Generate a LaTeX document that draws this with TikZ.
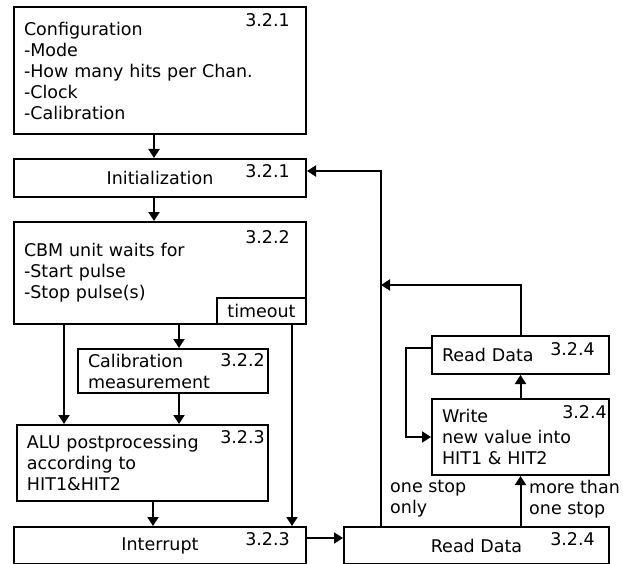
\documentclass[tikz,border=0pt]{standalone}
\usepackage{fontspec}
\setmainfont{DejaVu Sans}
\usetikzlibrary{arrows.meta}
\tikzset{
  box/.style={draw, line width=2pt, inner xsep=10pt, inner ysep=0pt, anchor=north west},
  lbox/.style={box, align=left},
  cbox/.style={box, align=center},
  num/.style={inner sep=0pt, anchor=north east},
  lbl/.style={inner sep=0pt, anchor=west, align=left},
  arr/.style={line width=2pt, -{Triangle[length=9pt,width=11pt]}},
}
\begin{document}
\begin{tikzpicture}[x=1pt, y=-1pt, font=\fontsize{17.5}{21}\selectfont]
\useasboundingbox (0,0) rectangle (623,564);
\node[lbox, text width=272pt, minimum height=127pt] (conf) at (13,6) {Configuration\\-Mode\\-How many hits per Chan.\\-Clock\\-Calibration};
\node[cbox, minimum width=292pt, minimum height=38pt] (init) at (13,158) {Initialization};
\node[lbox, text width=272pt, minimum height=102pt] (cbm) at (13,221) {CBM unit waits for\\-Start pulse\\-Stop pulse(s)};
\node[cbox, inner xsep=0pt, minimum width=89pt, minimum height=26pt, anchor=south east] (tout) at (cbm.south east) {timeout};
\node[lbox, text width=170pt, minimum height=44pt] (calib) at (77,348) {Calibration\\measurement};
\node[lbox, text width=231pt, minimum height=76pt] (alu) at (16,424) {ALU postprocessing\\according to\\HIT1\&HIT2};
\node[cbox, minimum width=292pt, minimum height=37pt] (intr) at (13,526) {Interrupt};
\node[cbox, minimum width=265pt, minimum height=37pt] (rd) at (343,526) {Read Data};
\node[lbox, text width=157pt, minimum height=76pt] (wr) at (431,398) {Write\\new value into\\HIT1 \& HIT2};
\node[lbox, text width=157pt, minimum height=38pt] (rdb) at (431,335) {Read Data};

\node[num] (n1) at ([shift={(-17,7)}]conf.north east) {3.2.1};
\node[num] (n2) at ([shift={(-17,6)}]init.north east) {3.2.1};
\node[num] (n3) at ([shift={(-17,9)}]cbm.north east) {3.2.2};
\node[num] (n4) at ([shift={(-4,5)}]calib.north east) {3.2.2};
\node[num] (n5) at ([shift={(-4,6)}]alu.north east) {3.2.3};
\node[num] (n6) at ([shift={(-17,6)}]intr.north east) {3.2.3};
\node[num] (n7) at ([shift={(-15,6)}]rd.north east) {3.2.4};
\node[num] (n8) at ([shift={(-3,7)}]wr.north east) {3.2.4};
\node[num] (n9) at ([shift={(-15,7)}]rdb.north east) {3.2.4};

\node[lbl] (one) at (390,499) {one stop\\only};
\node[lbl] (more) at (529,499) {more than\\one stop};

\draw[arr] ([xshift=-6pt]conf.south) -- ([xshift=-6pt]init.north);
\draw[arr] ([xshift=-6pt]init.south) -- ([xshift=-6pt]cbm.north);
\draw[arr] (cbm.south -| 64,0) -- (alu.north -| 64,0);
\draw[arr] (cbm.south -| 179,0) -- (calib.north -| 179,0);
\draw[arr] (calib.south -| 179,0) -- (alu.north -| 179,0);
\draw[arr] (alu.south -| 153,0) -- (intr.north -| 153,0);
\draw[arr] (tout.south -| 292,0) -- (intr.north -| 292,0);
\draw[arr] (intr.east |- 0,538) -- (rd.west |- 0,538);
\draw[arr] (rd.north -| wr.south) -- (wr.south);
\draw[arr] (wr.north) -- (rdb.south);
\draw[arr] (rdb.north) |- (381,285);
\draw[arr] (rd.north -| 381,0) |- (init.east |- 0,171);
\draw[arr] (rdb.west |- 0,348) -| (406,437) -- (wr.west |- 0,437);
\end{tikzpicture}
\end{document}
